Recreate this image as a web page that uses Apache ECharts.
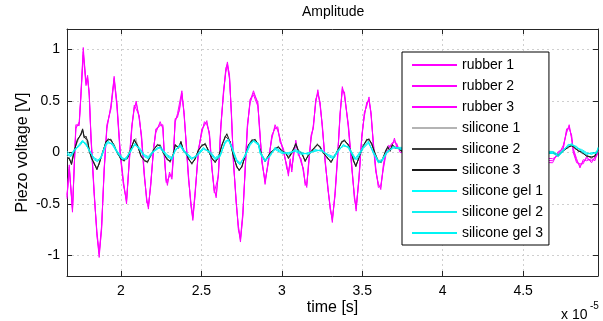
<!DOCTYPE html>
<html>
<head>
<meta charset="utf-8">
<script src="https://cdn.jsdelivr.net/npm/echarts@6/dist/echarts.min.js"></script>
<style>html,body{margin:0;padding:0;background:#fff}#c{width:603px;height:321px}</style>
</head>
<body>
<div id="c"></div>
<script>
// time axis values in units of 1e-5 s
const rubberX = [
1.665,1.679,1.699,1.720,1.741,1.752,1.766,1.783,1.793,1.803,
1.814,1.834,1.851,1.865,1.880,1.896,1.913,1.938,1.958,1.975,
1.996,2.016,2.035,2.052,2.068,2.083,2.095,2.114,2.128,2.145,
2.161,2.171,2.186,2.202,2.217,2.244,2.261,2.269,2.281,2.289,
2.302,2.317,2.327,2.337,2.352,2.364,2.379,2.393,2.406,2.420,
2.435,2.447,2.461,2.482,2.503,2.519,2.534,2.550,2.565,2.580,
2.592,2.606,2.621,2.637,2.652,2.662,2.675,2.687,2.699,2.716,
2.730,2.743,2.758,2.772,2.786,2.803,2.824,2.851,2.861,2.876,
2.896,2.917,2.938,2.958,2.975,2.989,3.010,3.031,3.041,3.052,
3.062,3.072,3.087,3.103,3.120,3.134,3.145,3.155,3.165,3.182,
3.196,3.211,3.224,3.238,3.252,3.269,3.286,3.300,3.314,3.331,
3.348,3.362,3.376,3.389,3.414,3.435,3.451,3.462,3.480,3.497,
3.513,3.528,3.542,3.555,3.569,3.584,3.600,3.615,3.631,3.646,
3.662,3.683,3.700,3.714,3.735,4.683,4.718,4.749,4.770,4.786,
4.801,4.811,4.832,4.853,4.873,4.894,4.925,4.946,4.965];
const rubber1 = [
-0.43,-0.14,-0.56,0.25,0.28,0.57,1.02,0.67,0.75,0.57,
0.15,-0.40,-0.79,-1.02,-0.73,-0.17,0.25,0.44,0.74,0.47,
-0.01,-0.30,-0.48,-0.08,0.25,0.44,0.48,0.34,0.15,-0.21,
-0.47,-0.53,-0.30,0.02,0.21,0.28,0.25,-0.01,-0.27,-0.30,
-0.21,-0.24,-0.01,0.31,0.36,0.41,0.58,0.37,0.08,-0.24,
-0.50,-0.66,-0.40,0.02,0.21,0.28,0.29,0.18,-0.14,-0.37,
-0.42,-0.21,0.25,0.57,0.80,0.88,0.73,0.37,-0.08,-0.47,
-0.73,-0.87,-0.60,-0.17,0.25,0.50,0.60,0.47,0.25,-0.08,
-0.29,-0.08,0.15,0.25,0.23,0.12,0.02,-0.14,-0.21,-0.08,
-0.17,-0.03,0.10,-0.01,-0.08,-0.17,-0.30,-0.32,-0.14,0.15,
0.25,0.50,0.59,0.47,0.25,-0.08,-0.34,-0.53,-0.66,-0.40,
-0.01,0.37,0.62,0.57,0.25,-0.14,-0.43,-0.55,-0.24,0.15,
0.37,0.47,0.52,0.37,0.08,-0.17,-0.32,-0.34,-0.14,-0.01,
0.05,0.07,0.12,0.07,0.02,-0.08,-0.01,0.05,0.21,0.25,
0.15,0.02,-0.08,-0.13,-0.09,-0.06,-0.08,-0.06,0.00];
const rubber2 = [
-0.45,-0.12,-0.58,0.27,0.26,0.59,0.98,0.69,0.73,0.55,
0.17,-0.38,-0.81,-0.99,-0.75,-0.15,0.23,0.46,0.72,0.49,
0.01,-0.28,-0.50,-0.06,0.27,0.42,0.50,0.32,0.17,-0.19,
-0.49,-0.51,-0.32,0.04,0.19,0.30,0.23,0.01,-0.29,-0.28,
-0.23,-0.22,0.01,0.29,0.38,0.39,0.60,0.35,0.10,-0.22,
-0.52,-0.64,-0.42,0.04,0.19,0.30,0.27,0.20,-0.12,-0.39,
-0.40,-0.23,0.27,0.55,0.82,0.86,0.75,0.35,-0.06,-0.49,
-0.71,-0.85,-0.62,-0.15,0.27,0.48,0.58,0.49,0.23,-0.06,
-0.31,-0.06,0.13,0.27,0.21,0.14,0.00,-0.12,-0.23,-0.06,
-0.19,-0.01,0.08,0.01,-0.10,-0.15,-0.32,-0.30,-0.16,0.17,
0.23,0.52,0.57,0.49,0.23,-0.06,-0.36,-0.51,-0.68,-0.38,
0.01,0.35,0.64,0.55,0.27,-0.12,-0.45,-0.53,-0.26,0.17,
0.35,0.49,0.50,0.39,0.06,-0.19,-0.30,-0.36,-0.12,0.01,
0.03,0.09,0.10,0.09,0.00,-0.10,0.01,0.03,0.23,0.23,
0.17,0.00,-0.10,-0.11,-0.11,-0.04,-0.10,-0.04,-0.02];
const rubber3 = [
-0.41,-0.16,-0.54,0.23,0.30,0.55,0.95,0.65,0.71,0.59,
0.13,-0.42,-0.77,-0.97,-0.71,-0.19,0.27,0.42,0.70,0.45,
-0.03,-0.32,-0.46,-0.10,0.23,0.46,0.46,0.36,0.13,-0.23,
-0.45,-0.55,-0.28,0.00,0.23,0.26,0.27,-0.03,-0.25,-0.32,
-0.19,-0.26,-0.03,0.33,0.34,0.43,0.56,0.39,0.06,-0.26,
-0.48,-0.62,-0.38,0.00,0.23,0.26,0.31,0.16,-0.16,-0.35,
-0.44,-0.19,0.23,0.59,0.78,0.84,0.71,0.39,-0.10,-0.45,
-0.75,-0.83,-0.58,-0.19,0.23,0.52,0.56,0.45,0.27,-0.10,
-0.27,-0.10,0.17,0.23,0.25,0.10,0.04,-0.16,-0.19,-0.10,
-0.15,-0.05,0.12,-0.03,-0.06,-0.19,-0.28,-0.34,-0.12,0.13,
0.27,0.48,0.61,0.45,0.27,-0.10,-0.32,-0.55,-0.64,-0.42,
-0.03,0.39,0.60,0.59,0.23,-0.16,-0.41,-0.57,-0.22,0.13,
0.39,0.45,0.54,0.35,0.10,-0.15,-0.34,-0.32,-0.16,-0.03,
0.07,0.05,0.14,0.05,0.04,-0.06,-0.03,0.07,0.19,0.27,
0.13,0.04,-0.06,-0.15,-0.07,-0.08,-0.06,-0.08,0.02];

const siliconeX = [
1.665,1.679,1.693,1.710,1.730,1.752,1.762,1.772,1.783,1.793,
1.803,1.817,1.834,1.851,1.865,1.886,1.907,1.921,1.938,1.958,
1.979,2.000,2.020,2.041,2.062,2.083,2.093,2.107,2.124,2.145,
2.165,2.186,2.207,2.227,2.244,2.265,2.286,2.306,2.327,2.337,
2.358,2.373,2.389,2.406,2.420,2.441,2.461,2.482,2.503,2.524,
2.544,2.565,2.586,2.606,2.627,2.648,2.658,2.679,2.699,2.720,
2.735,2.752,2.772,2.793,2.814,2.834,2.855,2.876,2.896,2.927,
2.958,2.979,3.000,3.025,3.041,3.062,3.087,3.103,3.124,3.145,
3.165,3.186,3.207,3.221,3.238,3.258,3.280,3.306,3.331,3.352,
3.373,3.389,3.414,3.435,3.445,3.460,3.480,3.507,3.528,3.542,
3.559,3.580,3.600,3.617,3.631,3.646,3.658,3.673,3.687,3.704,
3.724,3.741,4.687,4.718,4.749,4.780,4.801,4.822,4.842,4.863,
4.894,4.925,4.946,4.965];
const silicone1 = [
-0.03,-0.07,-0.09,0.03,0.10,0.19,0.21,0.16,0.13,0.13,
0.00,-0.04,-0.12,-0.14,-0.12,0.01,0.09,0.14,0.11,0.08,
-0.02,-0.05,-0.09,-0.04,0.05,0.11,0.14,0.04,-0.02,-0.09,
-0.08,-0.04,0.05,0.06,0.08,-0.02,-0.05,-0.10,0.00,0.06,
0.06,0.09,0.03,-0.02,-0.05,-0.12,-0.05,0.01,0.08,0.07,
0.03,-0.07,-0.08,-0.06,0.08,0.14,0.19,0.09,-0.02,-0.15,
-0.16,-0.15,-0.02,0.06,0.13,0.11,0.09,-0.04,-0.07,-0.02,
0.05,0.04,0.03,-0.02,-0.04,0.01,0.07,0.03,-0.02,-0.07,
-0.04,0.03,0.04,0.09,0.04,0.01,-0.06,-0.08,-0.04,0.05,
0.09,0.13,0.06,0.00,-0.09,-0.12,-0.06,0.08,0.11,0.14,
0.07,0.00,-0.10,-0.08,-0.06,0.03,0.04,0.03,0.06,0.06,
0.03,0.03,0.01,-0.04,0.03,0.04,0.08,0.03,0.03,-0.01,
-0.02,-0.06,-0.02,0.01];
const silicone2 = [
-0.06,-0.05,-0.12,0.01,0.13,0.17,0.22,0.14,0.16,0.11,
0.03,-0.06,-0.10,-0.17,-0.10,-0.01,0.11,0.12,0.13,0.06,
0.00,-0.07,-0.07,-0.06,0.03,0.13,0.12,0.06,-0.04,-0.07,
-0.10,-0.02,0.03,0.08,0.06,0.00,-0.07,-0.08,-0.02,0.08,
0.04,0.11,0.01,0.00,-0.07,-0.10,-0.07,0.03,0.06,0.09,
0.01,-0.05,-0.10,-0.04,0.06,0.16,0.17,0.11,-0.04,-0.13,
-0.18,-0.13,-0.04,0.08,0.11,0.13,0.07,-0.02,-0.09,0.00,
0.03,0.06,0.01,0.00,-0.06,-0.01,0.09,0.01,0.00,-0.09,
-0.02,0.01,0.06,0.07,0.06,-0.01,-0.04,-0.10,-0.02,0.03,
0.11,0.11,0.08,-0.02,-0.07,-0.14,-0.04,0.06,0.13,0.12,
0.09,-0.02,-0.08,-0.10,-0.04,0.01,0.06,0.01,0.08,0.04,
0.05,0.01,-0.01,-0.02,0.01,0.06,0.06,0.05,0.01,0.01,
-0.04,-0.04,-0.04,0.03];
const silicone3 = [
-0.05,-0.06,-0.11,0.02,0.12,0.18,0.23,0.15,0.15,0.12,
0.02,-0.05,-0.11,-0.16,-0.11,0.00,0.10,0.13,0.12,0.07,
-0.01,-0.06,-0.08,-0.05,0.04,0.12,0.13,0.05,-0.03,-0.08,
-0.09,-0.03,0.04,0.07,0.07,-0.01,-0.06,-0.09,-0.01,0.07,
0.05,0.10,0.02,-0.01,-0.06,-0.11,-0.06,0.02,0.07,0.08,
0.02,-0.06,-0.09,-0.05,0.07,0.15,0.18,0.10,-0.03,-0.14,
-0.17,-0.14,-0.03,0.07,0.12,0.12,0.08,-0.03,-0.08,-0.01,
0.04,0.05,0.02,-0.01,-0.05,0.00,0.08,0.02,-0.01,-0.08,
-0.03,0.02,0.05,0.08,0.05,0.00,-0.05,-0.09,-0.03,0.04,
0.10,0.12,0.07,-0.01,-0.08,-0.13,-0.05,0.07,0.12,0.13,
0.08,-0.01,-0.09,-0.09,-0.05,0.02,0.05,0.02,0.07,0.05,
0.04,0.02,0.00,-0.03,0.02,0.05,0.07,0.04,0.02,0.00,
-0.03,-0.05,-0.03,0.02];

const gelX = [
1.665,1.689,1.710,1.741,1.762,1.783,1.803,1.834,1.855,1.876,
1.907,1.921,1.948,1.979,2.010,2.031,2.062,2.087,2.114,2.145,
2.170,2.196,2.227,2.244,2.286,2.317,2.337,2.368,2.399,2.441,
2.472,2.513,2.555,2.586,2.617,2.648,2.668,2.689,2.720,2.741,
2.772,2.803,2.824,2.855,2.865,2.896,2.927,2.958,3.000,3.041,
3.083,3.124,3.165,3.207,3.248,3.290,3.320,3.352,3.383,3.414,
3.455,3.466,3.507,3.538,3.569,3.600,3.621,3.652,3.693,3.735,
4.687,4.718,4.749,4.780,4.801,4.832,4.863,4.894,4.925,4.956,
4.965];
const gel1 = [
-0.01,-0.03,0.02,0.08,0.12,0.08,0.02,-0.06,-0.08,-0.05,
0.08,0.10,0.08,0.00,-0.06,-0.06,0.02,0.08,0.04,-0.03,
-0.05,0.00,0.04,0.05,-0.03,-0.06,0.02,0.07,0.00,-0.06,
-0.03,0.04,0.00,-0.06,-0.03,0.10,0.13,0.05,-0.08,-0.11,
-0.03,0.08,0.12,0.08,0.00,-0.08,-0.03,0.04,0.00,-0.01,
0.02,-0.01,-0.01,0.02,0.02,-0.03,-0.05,0.02,0.07,0.05,
-0.06,-0.06,0.05,0.10,0.00,-0.09,-0.08,0.00,0.05,0.04,
0.00,-0.03,0.02,0.07,0.08,0.05,0.02,-0.01,-0.01,0.00,
0.04];
const gel2 = [
0.01,-0.02,0.03,0.06,0.10,0.09,0.01,-0.05,-0.07,-0.06,
0.07,0.09,0.09,0.01,-0.05,-0.07,0.03,0.07,0.05,-0.02,
-0.04,0.01,0.03,0.06,-0.02,-0.05,0.01,0.08,0.01,-0.05,
-0.04,0.03,0.01,-0.05,-0.02,0.09,0.12,0.06,-0.07,-0.10,
-0.04,0.07,0.11,0.09,0.01,-0.07,-0.04,0.05,0.01,-0.02,
0.03,0.00,-0.02,0.03,0.01,-0.02,-0.04,0.03,0.06,0.06,
-0.05,-0.07,0.04,0.09,0.01,-0.08,-0.07,0.01,0.04,0.05,
0.01,-0.02,0.03,0.06,0.09,0.04,0.03,0.00,-0.02,0.01,
0.03];
const gel3 = [
-0.02,-0.04,0.01,0.07,0.11,0.07,0.03,-0.07,-0.09,-0.04,
0.09,0.11,0.07,-0.01,-0.07,-0.05,0.01,0.09,0.03,-0.04,
-0.06,-0.01,0.05,0.04,-0.04,-0.07,0.03,0.06,-0.01,-0.07,
-0.02,0.05,-0.01,-0.07,-0.04,0.11,0.12,0.04,-0.09,-0.12,
-0.02,0.09,0.11,0.07,-0.01,-0.09,-0.02,0.03,-0.01,0.00,
0.01,-0.02,0.00,0.01,0.03,-0.04,-0.06,0.01,0.08,0.04,
-0.07,-0.05,0.06,0.11,-0.01,-0.10,-0.09,-0.01,0.06,0.03,
-0.01,-0.04,0.01,0.08,0.07,0.06,0.01,-0.02,0.00,-0.01,
0.05];

const seriesNames = ['rubber 1','rubber 2','rubber 3','silicone 1','silicone 2','silicone 3','silicone gel 1','silicone gel 2','silicone gel 3'];
const seriesX = [rubberX,rubberX,rubberX,siliconeX,siliconeX,siliconeX,gelX,gelX,gelX];
const seriesY = [rubber1,rubber2,rubber3,silicone1,silicone2,silicone3,gel1,gel2,gel3];
const seriesColors = ['#ff00ff','#ff00ff','#ff00ff','#b4b4b4','#3c3c3c','#1a1a1a','#00ffff','#10f0f0','#00f4f4'];

const FONT = 'Liberation Sans, Arial, Helvetica, sans-serif';
const xMin = 1.665, xMax = 4.965, yMin = -1.2, yMax = 1.2;

const chart = echarts.init(document.getElementById('c'), null, {renderer: 'canvas'});

const axisCommon = {
  axisLine: {show: true, onZero: false, lineStyle: {color: '#262626', width: 1}},
  axisTick: {show: true, inside: true, length: 5, lineStyle: {color: '#262626'}},
};

chart.setOption({
  animation: false,
  backgroundColor: '#fff',
  textStyle: {fontFamily: FONT},
  title: {
    text: 'Amplitude', left: 302, top: 5, padding: 0,
    textStyle: {fontSize: 14, fontWeight: 'normal', color: '#000', fontFamily: FONT}
  },
  grid: {left: 67, right: 5, top: 29, bottom: 44, containLabel: false},
  legend: {
    orient: 'vertical', left: 402, top: 52,
    backgroundColor: '#fff', borderColor: '#000', borderWidth: 1, borderRadius: 0,
    padding: [6, 6, 5, 9],
    itemWidth: 45, itemHeight: 13, itemGap: 7,
    data: seriesNames,
    itemStyle: {opacity: 0},
    textStyle: {fontSize: 14, color: '#000', fontFamily: FONT},
    z: 10
  },
  xAxis: [
    Object.assign({
      type: 'value', min: xMin, max: xMax, position: 'bottom',
      name: 'time [s]', nameLocation: 'middle', nameGap: 24, nameMoveOverlap: false,
      nameTextStyle: {fontSize: 16, color: '#000', fontFamily: FONT},
      axisLabel: {color: '#000', fontSize: 14, margin: 8, showMinLabel: false, showMaxLabel: false, fontFamily: FONT},
      splitLine: {show: true, lineStyle: {color: '#cfcfcf', type: [2, 3], width: 1}}
    }, axisCommon),
    Object.assign({
      type: 'value', min: xMin, max: xMax, position: 'top',
      axisLabel: {show: false}, splitLine: {show: false}
    }, axisCommon)
  ],
  yAxis: [
    Object.assign({
      type: 'value', min: yMin, max: yMax, position: 'left',
      name: 'Piezo voltage [V]', nameLocation: 'middle', nameGap: 36, nameRotate: 90, nameMoveOverlap: false,
      nameTextStyle: {fontSize: 16, color: '#000', fontFamily: FONT},
      axisLabel: {color: '#000', fontSize: 14, margin: 7, showMinLabel: false, showMaxLabel: false, fontFamily: FONT},
      splitLine: {show: true, lineStyle: {color: '#cfcfcf', type: [2, 3], width: 1}}
    }, axisCommon),
    Object.assign({
      type: 'value', min: yMin, max: yMax, position: 'right',
      axisLabel: {show: false}, splitLine: {show: false}
    }, axisCommon)
  ],
  graphic: [
    {type: 'text', left: 561, top: 308, style: {text: 'x 10', fontSize: 14, fill: '#000', fontFamily: FONT}},
    {type: 'text', left: 590, top: 301, style: {text: '-5', fontSize: 10, fill: '#000', fontFamily: FONT}}
  ],
  series: seriesNames.map(function (name, i) {
    return {
      name: name, type: 'line', xAxisIndex: 0, yAxisIndex: 0,
      symbol: 'none', showSymbol: false, smooth: false,
      lineStyle: {color: seriesColors[i], width: 1},
      itemStyle: {color: seriesColors[i], opacity: 0},
      data: seriesX[i].map(function (x, j) { return [x, seriesY[i][j]]; }),
      z: 2 + i * 0.01
    };
  })
});
</script>
</body>
</html>
